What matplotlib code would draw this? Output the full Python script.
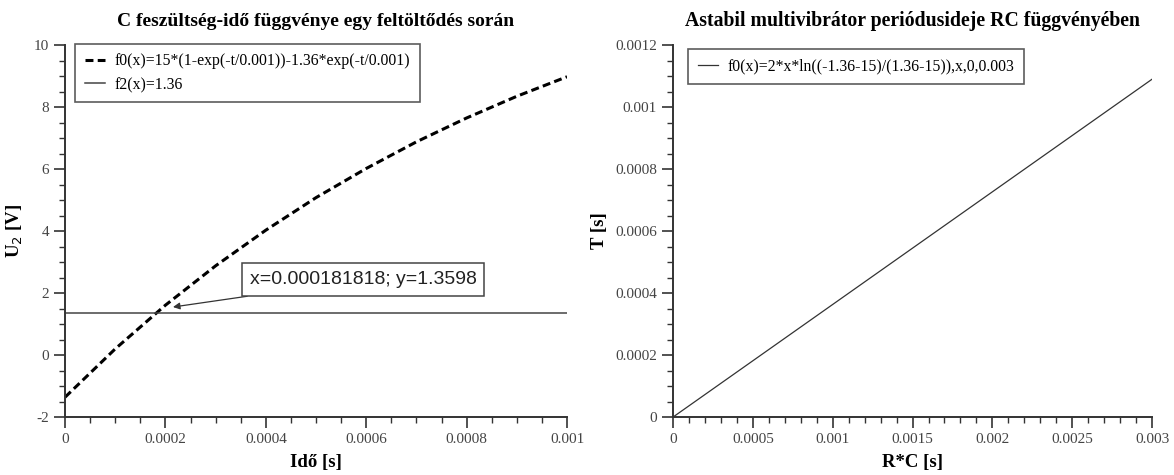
import matplotlib
matplotlib.use("Agg")
import matplotlib.pyplot as plt
from matplotlib.ticker import MultipleLocator, FuncFormatter

# Data

t_vals = [0, 0.0001, 0.0002, 0.0003, 0.0004, 0.0005, 0.0006, 0.0007, 0.0008, 0.0009, 0.001]
u_vals = [-1.36, 0.2, 1.61, 2.88, 4.03, 5.08, 6.02, 6.88, 7.65, 8.35, 8.98]
h_level = 1.36
h_x = [0, 0.001]

rc_vals = [0, 0.003]
period_vals = [0, 0.00109]

left_title = "C feszültség-idő függvénye egy feltöltődés során"
right_title = "Astabil multivibrátor periódusideje RC függvényében"
left_legend = ["f0(x)=15*(1-exp(-t/0.001))-1.36*exp(-t/0.001)", "f2(x)=1.36"]
right_legend = ["f0(x)=2*x*ln((-1.36-15)/(1.36-15)),x,0,0.003"]
note_text = "x=0.000181818; y=1.3598"
note_xy = (0.000215, 1.55)
note_text_xy = (0.000368, 2.44)

# Style

SERIF = ["Liberation Serif", "DejaVu Serif"]
SANS = ["Liberation Sans", "DejaVu Sans"]
plt.rcParams["font.family"] = SERIF

fmt = FuncFormatter(lambda v, _: f"{v:g}")


def style_axes(ax):
    for side in ["top", "right"]:
        ax.spines[side].set_visible(False)
    for side in ["left", "bottom"]:
        ax.spines[side].set_linewidth(1.4)
        ax.spines[side].set_color("#333333")
    ax.tick_params(which="major", direction="out", length=8, width=1.2,
                   labelsize=11, colors="#333333", labelcolor="#444444")
    ax.tick_params(which="minor", direction="out", length=4.5, width=1.0,
                   colors="#333333")
    ax.xaxis.set_major_formatter(fmt)
    ax.yaxis.set_major_formatter(fmt)


fig = plt.figure(figsize=(11.74, 4.75), dpi=100)

# Left panel

ax1 = fig.add_axes([0.0554, 0.122, 0.4276, 0.783])
ax1.plot(t_vals, u_vals, color="black", lw=2.2, linestyle=(0, (2.6, 1.4)),
         label=left_legend[0])
ax1.plot(h_x, [h_level, h_level], color="#444444", lw=1.1,
         label=left_legend[1])
ax1.set_xlim(0, 0.001)
ax1.set_ylim(-2, 10)
ax1.xaxis.set_major_locator(MultipleLocator(0.0002))
ax1.xaxis.set_minor_locator(MultipleLocator(0.00005))
ax1.yaxis.set_major_locator(MultipleLocator(2))
ax1.yaxis.set_minor_locator(MultipleLocator(0.5))
style_axes(ax1)
ax1.set_title(left_title, fontsize=14, fontweight="bold", pad=14)
ax1.set_xlabel("Idő [s]", fontsize=13.5, fontweight="bold", labelpad=6)
ax1.set_ylabel("U$_2$ [V]", fontsize=13.5, fontweight="bold", labelpad=6)

leg1 = ax1.legend(loc="upper left", bbox_to_anchor=(0.005, 1.025),
                  fontsize=11.3, frameon=True, fancybox=False,
                  handlelength=1.3, handletextpad=0.6,
                  borderpad=0.6, labelspacing=0.5)
leg1.get_frame().set_edgecolor("#333333")
leg1.get_frame().set_linewidth(1.2)

ax1.annotate(note_text, xy=note_xy, xytext=note_text_xy,
             fontsize=14, family=SANS, color="#222222", va="center",
             bbox=dict(boxstyle="square,pad=0.4", fc="white",
                       ec="#444444", lw=1.1),
             arrowprops=dict(arrowstyle="-|>", color="#333333", lw=0.9,
                             mutation_scale=10, shrinkA=0, shrinkB=0))

# Right panel

ax2 = fig.add_axes([0.5733, 0.122, 0.408, 0.783])
ax2.plot(rc_vals, period_vals, color="#333333", lw=0.9, label=right_legend[0])
ax2.set_xlim(0, 0.003)
ax2.set_ylim(0, 0.0012)
ax2.xaxis.set_major_locator(MultipleLocator(0.0005))
ax2.xaxis.set_minor_locator(MultipleLocator(0.0001))
ax2.yaxis.set_major_locator(MultipleLocator(0.0002))
ax2.yaxis.set_minor_locator(MultipleLocator(0.00005))
style_axes(ax2)
ax2.set_title(right_title, fontsize=14.2, fontweight="bold", pad=14)
ax2.set_xlabel("R*C [s]", fontsize=13.5, fontweight="bold", labelpad=6)
ax2.set_ylabel("T [s]", fontsize=13.5, fontweight="bold", labelpad=5)

leg2 = ax2.legend(loc="upper left", bbox_to_anchor=(0.015, 1.01),
                  fontsize=11.3, frameon=True, fancybox=False,
                  handlelength=1.3, handletextpad=0.6, borderpad=0.6)
leg2.get_frame().set_edgecolor("#333333")
leg2.get_frame().set_linewidth(1.2)

fig.savefig("out.png", dpi=100)
